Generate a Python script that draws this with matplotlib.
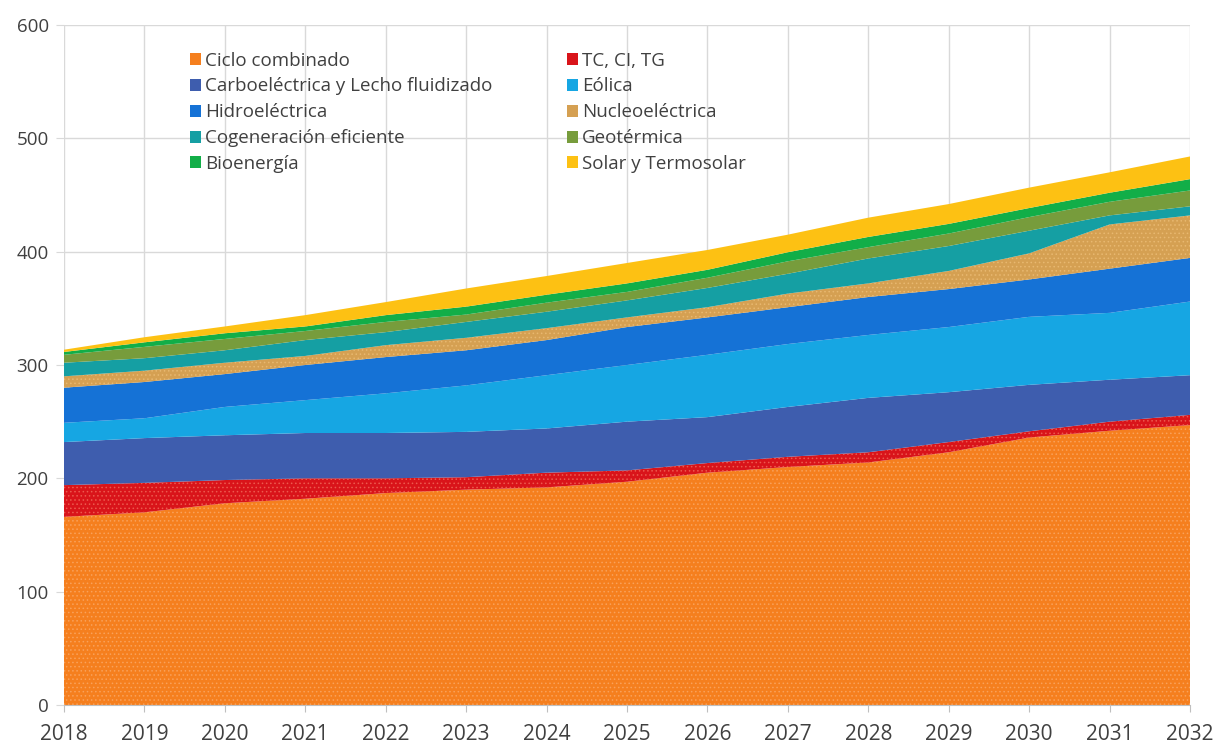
import matplotlib
matplotlib.use("Agg")
import matplotlib.pyplot as plt
import numpy as np
from matplotlib.patches import Patch

years = list(range(2018, 2033))

ciclo_combinado = [166, 170, 178, 182, 187, 190, 192, 197, 205, 210, 214, 223, 236, 242, 247]
tc_ci_tg = [28, 26, 20.5, 18, 13, 11, 13, 10, 8.5, 9, 9, 9, 5.5, 8, 9]
carboelectrica = [38, 39.5, 39.5, 40, 40, 40, 39, 43, 40.5, 44, 48, 44, 41, 37, 35]
eolica = [17, 17.5, 25, 29, 35, 41, 47, 50, 55, 55.5, 55.5, 57.5, 60, 59, 65]
hidroelectrica = [31, 32, 29, 31, 32, 31, 31, 33.5, 33, 32.5, 33.5, 33.5, 33, 39, 38.5]
nucleoelectrica = [10, 10, 10, 8, 10.5, 11, 10.5, 8.5, 9, 12, 12, 16, 23, 39, 37.5]
cogeneracion = [12, 11, 11, 14, 11.5, 14, 14.5, 15, 17, 17.5, 22, 22, 20, 8, 8]
geotermica = [7, 10, 10, 8, 9, 6.5, 8, 7.5, 9, 11, 10, 11, 12, 12, 14]
bioenergia = [2.5, 4, 5, 4, 6, 7, 7, 7.5, 7, 8, 9, 8.5, 8, 8, 10]
solar = [2, 4.5, 6, 10, 11.5, 16, 16.5, 18, 17.5, 15.5, 17, 17.5, 18, 18, 20]

labels = ["Ciclo combinado", "TC, CI, TG", "Carboeléctrica y Lecho fluidizado", "Eólica",
          "Hidroeléctrica", "Nucleoeléctrica", "Cogeneración eficiente", "Geotérmica",
          "Bioenergía", "Solar y Termosolar"]
series = [ciclo_combinado, tc_ci_tg, carboelectrica, eolica, hidroelectrica,
          nucleoelectrica, cogeneracion, geotermica, bioenergia, solar]
colors = ["#F57F1E", "#D9141A", "#3E5DAE", "#16A6E3", "#1572D6", "#D5A052",
          "#159FA3", "#779C3C", "#12AE48", "#FDC113"]
hatch_cols = {0: "#F9A15A", 1: "#EC5A4E", 5: "#E8B870"}

plt.rcParams['font.family'] = ['Open Sans', 'DejaVu Sans']
plt.rcParams['hatch.linewidth'] = 0.6

fig = plt.figure(figsize=(12.22, 7.5), dpi=100)
ax = fig.add_axes([64/1222, 45/750, (1190-64)/1222, (705-25)/750])

x = np.array(years)
base = np.zeros(len(years))
for i, (s, c, lab) in enumerate(zip(series, colors, labels)):
    top = base + np.array(s, dtype=float)
    if i in hatch_cols:
        ax.fill_between(x, base, top, facecolor=c, edgecolor=hatch_cols[i],
                        hatch='....', linewidth=0, zorder=2, label=lab)
    else:
        ax.fill_between(x, base, top, facecolor=c, linewidth=0, zorder=2, label=lab)
    base = top

ax.set_xlim(2018, 2032)
ax.set_ylim(0, 600)
ax.set_xticks(years)
ax.set_yticks(range(0, 601, 100))
ax.grid(True, color="#D9D9D9", linewidth=1.0, zorder=0)
ax.set_axisbelow(True)
for sp in ["top", "right", "left"]:
    ax.spines[sp].set_visible(False)
ax.spines["bottom"].set_color("#BFBFBF")
ax.tick_params(axis='x', colors="#BFBFBF", length=5, labelcolor="#404040", labelsize=15, pad=9)
ax.tick_params(axis='y', colors="#D9D9D9", length=6, labelcolor="#404040", labelsize=13.5, pad=5)

leg_handles = [Patch(facecolor=c, edgecolor='none') for c in colors]
order = [0, 2, 4, 6, 8, 1, 3, 5, 7, 9]
leg = ax.legend([leg_handles[i] for i in order], [labels[i] for i in order],
                ncol=2, loc='upper left', bbox_to_anchor=(0.105, 0.972),
                frameon=False, fontsize=13.5, handlelength=0.6, handleheight=0.6,
                handletextpad=0.2, labelspacing=0.42, columnspacing=4.0,
                borderaxespad=0)
for t in leg.get_texts():
    t.set_color("#404040")

fig.savefig("out.png", dpi=100)
